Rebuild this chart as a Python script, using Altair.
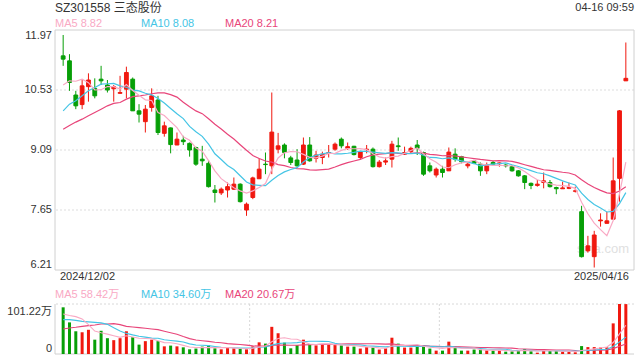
import altair as alt
import pandas as pd

FONT = "'Liberation Sans', 'Noto Sans CJK SC', sans-serif"
RED = "#f0180f"
GREEN = "#079f07"

title_text = "SZ301558 三态股份"
time_text = "04-16 09:59"
date_labels = ["2024/12/02", "2025/04/16"]
price_ticks = [11.97, 10.53, 9.09, 7.65, 6.21]
vol_ticks = [101.22, 0]
price_ma_labels = ["MA5 8.82", "MA10 8.08", "MA20 8.21"]
vol_ma_labels = ["MA5 58.42万", "MA10 34.60万", "MA20 20.67万"]
ma_colors = ["#f9a9c4", "#45c5e5", "#e8457a"]

highs = [11.85, 11.39, 10.51, 10.77, 10.93, 10.81, 11.11, 10.77, 10.65, 10.87,
         11.09, 10.83, 10.19, 10.17, 10.57, 10.39, 9.77, 9.63, 9.51, 9.43,
         9.27, 9.17, 9.19, 8.85, 8.25, 8.19, 8.31, 8.43, 8.29, 7.83,
         8.45, 8.89, 9.03, 10.47, 9.50, 9.25, 8.95, 9.11, 9.39, 9.40,
         9.07, 9.05, 9.21, 9.27, 9.39, 9.27, 9.19, 9.07, 9.21, 9.15,
         8.85, 8.91, 9.31, 9.39, 9.17, 9.17, 9.33, 9.05, 8.79, 8.67,
         8.71, 9.15, 9.13, 8.95, 8.79, 8.85, 8.79, 8.79, 8.83, 8.79,
         8.75, 8.73, 8.61, 8.49, 8.31, 8.37, 8.55, 8.37, 8.21, 8.33,
         8.31, 8.21, 7.75, 7.03, 7.15, 7.57, 7.61, 8.91, 10.05, 11.67]
opens = [11.35, 11.23, 10.41, 10.18, 10.61, 10.57, 10.79, 10.65, 10.56, 10.45,
         10.55, 10.79, 10.03, 9.77, 10.11, 10.29, 9.49, 9.62, 9.21, 9.33,
         9.25, 9.15, 8.87, 8.77, 8.13, 8.06, 8.13, 8.15, 8.27, 7.65,
         7.95, 8.40, 8.75, 8.71, 9.11, 9.21, 8.90, 8.85, 8.75, 9.21,
         8.89, 8.91, 9.01, 9.11, 9.35, 9.13, 9.18, 8.91, 9.10, 9.11,
         8.69, 8.80, 8.87, 9.19, 8.99, 9.05, 9.21, 9.03, 8.71, 8.49,
         8.63, 8.59, 8.99, 8.93, 8.71, 8.83, 8.75, 8.59, 8.79, 8.76,
         8.73, 8.69, 8.59, 8.47, 8.29, 8.24, 8.31, 8.31, 8.19, 8.16,
         8.17, 8.10, 7.61, 6.67, 6.53, 7.39, 7.33, 7.43, 8.41, 10.75]
closes = [11.27, 10.71, 10.15, 10.63, 10.77, 10.39, 10.75, 10.53, 10.61, 10.47,
          10.95, 10.03, 9.95, 10.07, 10.39, 9.51, 9.67, 9.22, 9.35, 9.29,
          9.09, 8.75, 8.83, 8.21, 8.07, 8.15, 8.21, 8.27, 7.85, 7.79,
          8.42, 8.63, 8.74, 9.52, 9.19, 9.03, 8.79, 8.71, 9.21, 8.83,
          8.97, 8.99, 9.03, 9.23, 9.19, 9.17, 8.98, 9.05, 9.11, 8.69,
          8.80, 8.83, 9.23, 9.17, 9.03, 9.13, 9.13, 8.51, 8.59, 8.63,
          8.55, 9.04, 8.87, 8.81, 8.75, 8.77, 8.59, 8.73, 8.75, 8.78,
          8.71, 8.59, 8.47, 8.31, 8.24, 8.27, 8.35, 8.21, 8.16, 8.18,
          8.19, 8.11, 6.53, 6.79, 7.05, 7.41, 7.39, 8.35, 10.03, 10.81]
lows = [11.11, 10.51, 10.07, 10.07, 10.25, 10.33, 10.65, 10.47, 10.25, 10.44,
        10.33, 10.03, 9.75, 9.51, 10.01, 9.45, 9.41, 9.01, 9.21, 9.21,
        8.93, 8.71, 8.71, 8.19, 7.83, 8.01, 7.95, 8.13, 7.83, 7.51,
        7.91, 8.40, 8.51, 8.51, 9.01, 8.89, 8.73, 8.69, 8.73, 8.81,
        8.79, 8.75, 8.91, 9.07, 9.13, 9.09, 8.96, 8.85, 9.01, 8.67,
        8.67, 8.73, 8.67, 9.07, 8.97, 9.01, 8.97, 8.47, 8.55, 8.43,
        8.43, 8.59, 8.81, 8.77, 8.65, 8.75, 8.47, 8.51, 8.71, 8.69,
        8.67, 8.57, 8.45, 8.15, 8.15, 8.21, 8.17, 8.19, 8.03, 8.16,
        8.15, 8.07, 6.51, 6.63, 6.27, 7.25, 7.33, 7.43, 7.85, 10.75]
volumes = [94.5, 64, 46, 44, 49, 29, 47, 32, 28, 32,
           46, 34, 19, 26, 29, 26, 15.5, 17, 15.5, 13.5,
           9.5, 11, 15, 17.5, 11.5, 9.5, 12, 11.5, 11, 9.5,
           15.5, 23.6, 21, 55, 42, 23, 11.5, 18, 29, 19,
           17.5, 19, 19, 19, 17.5, 15, 15, 11, 14, 13,
           9, 11.5, 33, 21, 13, 13, 16, 16, 11, 6.8,
           6.8, 25, 13, 6.8, 6.8, 9, 9, 7.4, 6.8, 6.8,
           4.7, 5.4, 8, 10, 5.4, 2.7, 10, 6, 6, 4.7,
           4.7, 3.4, 16, 14, 14, 13, 13.5, 62, 101.22, 101]

# moving-average values before the window is full
ma5_head = [10.65, 10.75, 10.74, 10.79]
ma10_head = [10.03, 10.19, 10.27, 10.39, 10.51, 10.59, 10.67, 10.68, 10.69]
ma20_head = [9.59, 9.68, 9.76, 9.83, 9.91, 9.99, 10.07, 10.15, 10.21, 10.23,
             10.31, 10.37, 10.39, 10.41, 10.44, 10.46, 10.46, 10.42, 10.36]
vma5_head = [81, 78, 75.6, 71]
vma10_head = [69.5, 69.5, 68, 66, 65, 64, 63, 60, 53]
vma20_head = [50.6, 52.7, 54, 56, 57.4, 58.7, 60.8, 60.8, 61.4, 59.4,
              56, 54.7, 53.3, 52, 50.6, 49.3, 46, 43, 40]

n = len(closes)
df = pd.DataFrame({"i": list(range(n)), "open": opens, "high": highs,
                   "low": lows, "close": closes, "vol": volumes})
df["dir"] = ["up" if c >= o else "down" for o, c in zip(opens, closes)]


def ma(values, w, head):
    s = pd.Series(values, dtype=float).rolling(w).mean()
    s.iloc[:w - 1] = head
    return s


df["ma5"] = ma(closes, 5, ma5_head)
df["ma10"] = ma(closes, 10, ma10_head)
df["ma20"] = ma(closes, 20, ma20_head)
df["vma5"] = ma(volumes, 5, vma5_head)
df["vma10"] = ma(volumes, 10, vma10_head)
df["vma20"] = ma(volumes, 20, vma20_head)

W, H = 579, 324
PH = 240
VT, VB = 274, 324

xs = alt.Scale(domain=[-0.5, n - 0.5], nice=False, zero=False)
X = alt.X("i:Q", scale=xs, axis=None)
ps = alt.Scale(domain=[min(price_ticks), max(price_ticks)], range=[PH, 0], nice=False, zero=False)
vs = alt.Scale(domain=[0, max(vol_ticks)], range=[VB, VT], nice=False, zero=False)
cscale = alt.Scale(domain=["up", "down"], range=[RED, GREEN])
C = alt.Color("dir:N", scale=cscale, legend=None)
S = alt.Stroke("dir:N", scale=cscale, legend=None)

base = alt.Chart(df)
layers = []

# frame and grid of price panel
grid_df = pd.DataFrame({"p": price_ticks[1:-1]})
layers.append(alt.Chart(grid_df).mark_rule(color="#dddddd", strokeDash=[2, 2], strokeWidth=1)
              .encode(y=alt.Y("p:Q", scale=ps, axis=None)))
layers.append(alt.Chart(pd.DataFrame({"a": [0]})).mark_rect(filled=False, stroke="#d0d0d0", strokeWidth=1)
              .encode(x=alt.value(0), x2=alt.value(W), y=alt.value(0), y2=alt.value(PH)))

# volume panel grid
layers.append(alt.Chart(pd.DataFrame({"v": [max(vol_ticks)]})).mark_rule(color="#d8d8d8", strokeDash=[2, 2])
              .encode(y=alt.Y("v:Q", scale=vs, axis=None)))
vg = pd.DataFrame({"g": [-0.5 + n / 3, -0.5 + 2 * n / 3]})
layers.append(alt.Chart(vg).mark_rule(color="#d8d8d8", strokeDash=[2, 2])
              .encode(x=alt.X("g:Q", scale=xs, axis=None), y=alt.value(VT), y2=alt.value(VB)))
layers.append(alt.Chart(pd.DataFrame({"a": [0]})).mark_rule(color="#d0d0d0")
              .encode(x=alt.value(0), y=alt.value(VT), y2=alt.value(VB)))
layers.append(alt.Chart(pd.DataFrame({"a": [0]})).mark_rule(color="#d0d0d0")
              .encode(x=alt.value(0), x2=alt.value(W), y=alt.value(VB)))

# watermark
layers.append(alt.Chart(pd.DataFrame({"t": ["sina.com"]})).mark_text(
    font=FONT, fontSize=13, color="#bbbbbb", opacity=0.45, align="center", baseline="middle")
    .encode(text="t:N", x=alt.value(548), y=alt.value(219)))

# candles
layers.append(base.mark_rule(strokeWidth=1).encode(
    x=X, y=alt.Y("low:Q", scale=ps, axis=None), y2="high:Q", color=C))
layers.append(base.mark_bar(size=3.8, strokeWidth=1).encode(
    x=X, y=alt.Y("open:Q", scale=ps, axis=None), y2="close:Q", color=C, stroke=S))

# price MAs
for col, colr in zip(["ma20", "ma10", "ma5"], ma_colors[::-1]):
    layers.append(base.mark_line(strokeWidth=1.2, color=colr).encode(
        x=X, y=alt.Y(f"{col}:Q", scale=ps, axis=None)))

# volume bars
layers.append(base.mark_bar(size=3).encode(
    x=X, y=alt.Y("vol:Q", scale=vs, axis=None), color=C))
for col, colr in zip(["vma20", "vma10", "vma5"], ma_colors[::-1]):
    layers.append(base.mark_line(strokeWidth=1.1, color=colr).encode(
        x=X, y=alt.Y(f"{col}:Q", scale=vs, axis=None)))

# price tick labels
def tick_layer(vals, scale, baseline, dy=0, fmt=None):
    d = pd.DataFrame({"v": vals, "t": [fmt(v) for v in vals]})
    return alt.Chart(d).mark_text(font=FONT, fontSize=11, color="#333333", align="right",
                                  baseline=baseline, dy=dy).encode(
        text="t:N", x=alt.value(-3), y=alt.Y("v:Q", scale=scale, axis=None))


pf = lambda v: f"{v:.2f}"
layers.append(tick_layer([price_ticks[0]], ps, "top", 0, pf))
layers.append(tick_layer(price_ticks[1:-1], ps, "middle", 0, pf))
layers.append(tick_layer([price_ticks[-1]], ps, "bottom", 0, pf))
vf = lambda v: "0" if v == 0 else f"{v:.2f}万"
layers.append(tick_layer([vol_ticks[0]], vs, "top", 2, vf))
layers.append(tick_layer([vol_ticks[1]], vs, "bottom", 0, vf))

# date labels
layers.append(alt.Chart(pd.DataFrame({"i": [-0.5], "t": [date_labels[0]]})).mark_text(
    font=FONT, fontSize=11, color="#333333", align="left", baseline="middle")
    .encode(text="t:N", x=alt.X("i:Q", scale=xs, axis=None), y=alt.value(247)))
layers.append(alt.Chart(pd.DataFrame({"i": [n - 0.5], "t": [date_labels[1]]})).mark_text(
    font=FONT, fontSize=11, color="#333333", align="right", baseline="middle")
    .encode(text="t:N", x=alt.X("i:Q", scale=xs, axis=None), y=alt.value(247)))

# header texts
layers.append(alt.Chart(pd.DataFrame({"t": [title_text]})).mark_text(
    font=FONT, fontSize=12, color="#333333", align="left", baseline="middle")
    .encode(text="t:N", x=alt.value(0), y=alt.value(-22)))
layers.append(alt.Chart(pd.DataFrame({"t": [time_text]})).mark_text(
    font=FONT, fontSize=11, color="#333333", align="right", baseline="middle")
    .encode(text="t:N", x=alt.value(W), y=alt.value(-22)))

legend_x = [0, 86, 170]
for lbl, colr, lx in zip(price_ma_labels, ma_colors, legend_x):
    layers.append(alt.Chart(pd.DataFrame({"t": [lbl]})).mark_text(
        font=FONT, fontSize=11, color=colr, align="left", baseline="middle")
        .encode(text="t:N", x=alt.value(lx), y=alt.value(-6)))
for lbl, colr, lx in zip(vol_ma_labels, ma_colors, legend_x):
    layers.append(alt.Chart(pd.DataFrame({"t": [lbl]})).mark_text(
        font=FONT, fontSize=11, color=colr, align="left", baseline="middle")
        .encode(text="t:N", x=alt.value(lx), y=alt.value(265)))

chart = alt.layer(*layers).resolve_scale(y="independent").properties(
    width=W, height=H,
    padding={"left": 55, "top": 30, "right": 6, "bottom": 6},
    autosize=alt.AutoSizeParams(type="none"),
    background="white",
).configure_view(stroke=None)

chart.save("out.html", embed_options={"renderer": "svg", "actions": False})
